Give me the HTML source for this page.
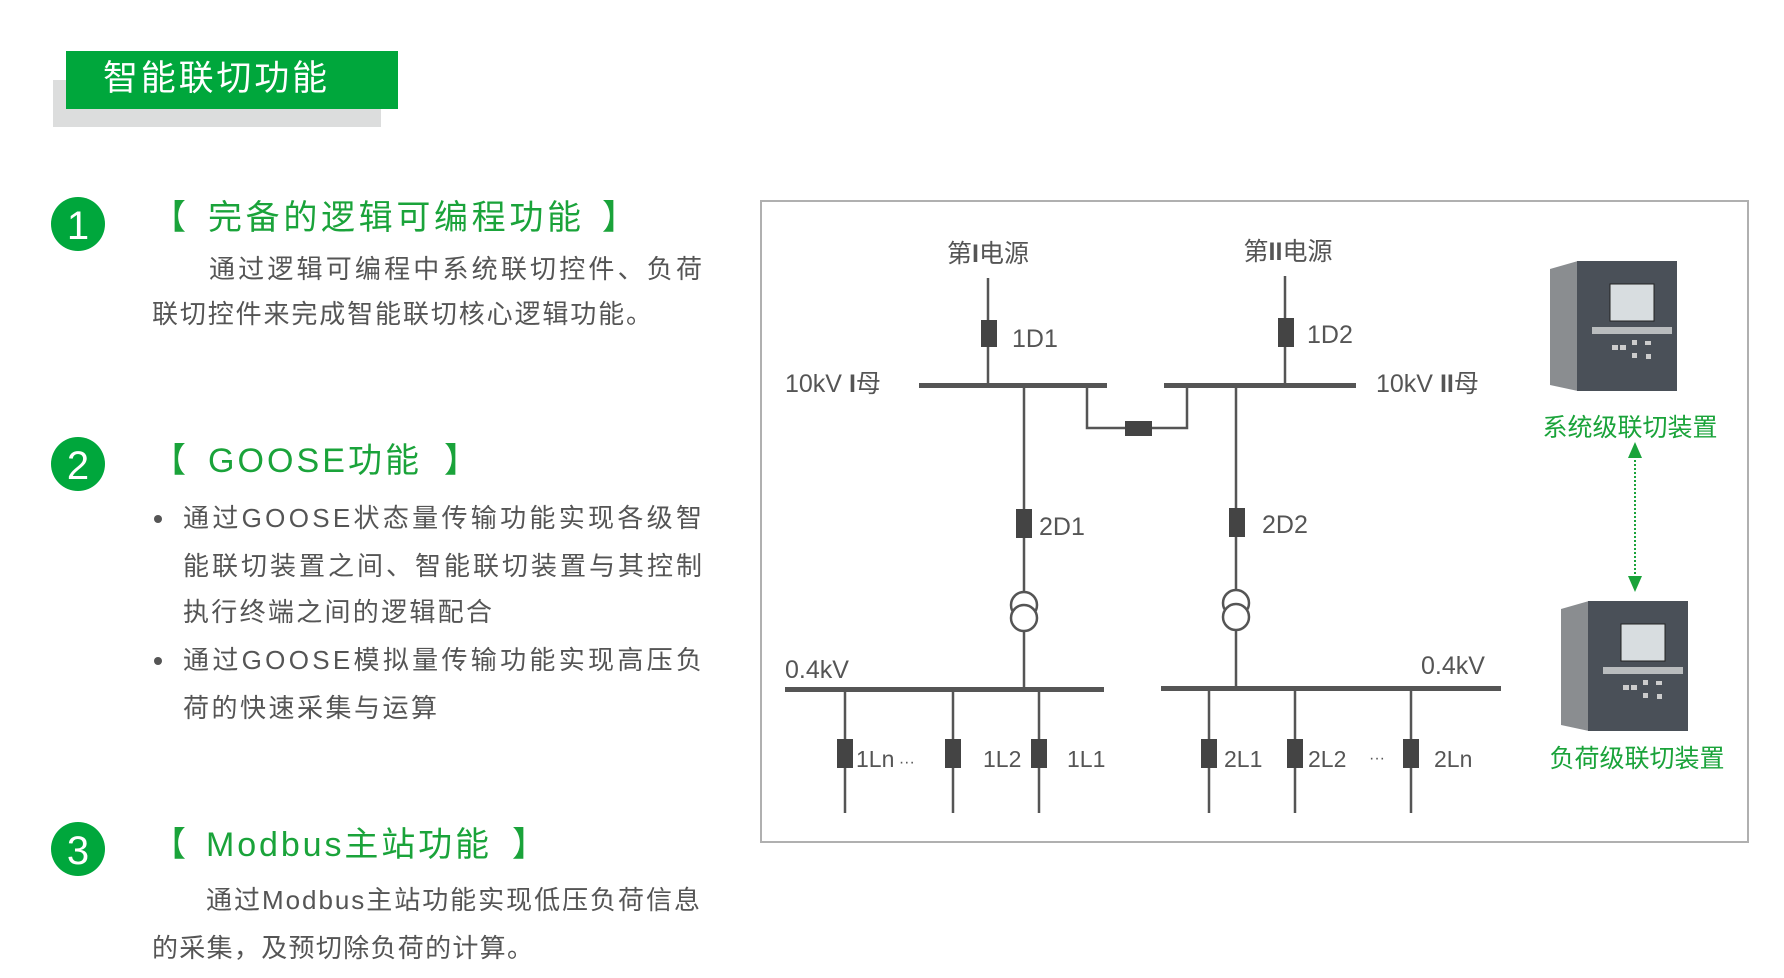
<!DOCTYPE html>
<html><head><meta charset="utf-8"><style>
html,body{margin:0;padding:0;background:#fff;width:1784px;height:978px;overflow:hidden}
svg{display:block}
</style></head><body>
<svg width="1784" height="978" xmlns="http://www.w3.org/2000/svg" font-family="Liberation Sans, Noto Sans CJK SC, sans-serif">
<defs>
<g id="dev">
  <polygon points="0,8 28,0 28,130 0,124" fill="#8a8d90"/>
  <rect x="27" y="0" width="100" height="130" fill="#4a5058"/>
  <rect x="60" y="23" width="44" height="37" fill="#d8dde0" stroke="#222" stroke-width="1"/>
  <rect x="42" y="66" width="80" height="7" fill="#b9bcbe"/>
  <rect x="62" y="84" width="6" height="5" fill="#ccc"/><rect x="70" y="84" width="6" height="5" fill="#ccc"/>
  <rect x="82" y="79" width="5" height="5" fill="#ccc"/><rect x="82" y="92" width="5" height="5" fill="#ccc"/>
  <rect x="95" y="80" width="6" height="4" fill="#ccc"/><rect x="96" y="93" width="5" height="5" fill="#ccc"/>
</g>
</defs>
<rect x="53" y="80" width="328" height="47" fill="#dcdddd"/>
<rect x="66" y="51" width="332" height="58" fill="#00a73c"/>
<text x="103" y="90" font-size="35" fill="#fff" textLength="224">智能联切功能</text>

<g fill="#00a73c"><circle cx="78" cy="224" r="27"/><circle cx="78" cy="464" r="27"/><circle cx="78" cy="849" r="27"/></g>
<g fill="#fff" font-size="40" text-anchor="middle"><text x="78" y="239">1</text><text x="78" y="479">2</text><text x="78" y="864">3</text></g>

<g fill="#1aa33a" font-size="34">
<text x="152" y="229">【</text><text x="208" y="229" textLength="373">完备的逻辑可编程功能</text><text x="602" y="229">】</text>
<text x="152" y="472">【</text><text x="208" y="472" textLength="211">GOOSE功能</text><text x="444" y="472">】</text>
<text x="152" y="856">【</text><text x="206" y="856" textLength="283">Modbus主站功能</text><text x="512" y="856">】</text>
</g>

<g fill="#555" font-size="26">
<text x="209" y="278" textLength="493">通过逻辑可编程中系统联切控件、负荷</text>
<text x="152" y="323" textLength="500">联切控件来完成智能联切核心逻辑功能。</text>
<circle cx="158" cy="519" r="4"/>
<text x="183" y="527" textLength="519">通过GOOSE状态量传输功能实现各级智</text>
<text x="183" y="575" textLength="519">能联切装置之间、智能联切装置与其控制</text>
<text x="183" y="621" textLength="309">执行终端之间的逻辑配合</text>
<circle cx="158" cy="661" r="4"/>
<text x="183" y="669" textLength="519">通过GOOSE模拟量传输功能实现高压负</text>
<text x="183" y="717" textLength="254">荷的快速采集与运算</text>
<text x="206" y="909" textLength="494">通过Modbus主站功能实现低压负荷信息</text>
<text x="152" y="957" textLength="381">的采集，及预切除负荷的计算。</text>
</g>

<rect x="761" y="201" width="987" height="641" fill="none" stroke="#b0b0b0" stroke-width="2"/>

<g transform="translate(-5,-2)">
<g stroke="#555" stroke-width="2.5" fill="none">
<line x1="993" y1="280" x2="993" y2="387"/>
<line x1="1290" y1="278" x2="1290" y2="387"/>
<polyline points="1092,387 1092,430 1192,430 1192,387"/>
<line x1="1029" y1="387" x2="1029" y2="594"/>
<line x1="1029" y1="633" x2="1029" y2="691"/>
<line x1="1241" y1="387" x2="1241" y2="592"/>
<line x1="1241" y1="632" x2="1241" y2="690"/>
<circle cx="1029" cy="607" r="13" fill="#fff"/><circle cx="1029" cy="620" r="13" fill="#fff"/>
<circle cx="1241" cy="605" r="13" fill="#fff"/><circle cx="1241" cy="619" r="13" fill="#fff"/>
<line x1="850" y1="691" x2="850" y2="815"/><line x1="958" y1="691" x2="958" y2="815"/><line x1="1044" y1="691" x2="1044" y2="815"/>
<line x1="1214" y1="690" x2="1214" y2="815"/><line x1="1300" y1="690" x2="1300" y2="815"/><line x1="1416" y1="690" x2="1416" y2="815"/>
</g>
<g fill="#555">
<rect x="924" y="385" width="188" height="5"/>
<rect x="1169" y="385" width="192" height="5"/>
<rect x="790" y="689" width="319" height="5"/>
<rect x="1166" y="688" width="340" height="5"/>
</g>
<g fill="#444">
<rect x="986" y="322" width="16" height="27"/>
<rect x="1283" y="320" width="16" height="29"/>
<rect x="1130" y="423" width="27" height="15"/>
<rect x="1021" y="511" width="16" height="29"/>
<rect x="1234" y="510" width="16" height="29"/>
<rect x="842" y="741" width="16" height="29"/><rect x="950" y="741" width="16" height="29"/><rect x="1036" y="741" width="16" height="29"/>
<rect x="1206" y="741" width="16" height="29"/><rect x="1292" y="741" width="16" height="29"/><rect x="1408" y="741" width="16" height="29"/>
</g>
<g fill="#555" font-size="25">
<text x="993" y="264" text-anchor="middle">第<tspan font-weight="bold">I</tspan>电源</text>
<text x="1293" y="262" text-anchor="middle">第<tspan font-weight="bold">II</tspan>电源</text>
<text x="1017" y="349">1D1</text>
<text x="1312" y="345">1D2</text>
<text x="790" y="394">10kV  <tspan font-weight="bold">I</tspan>母</text>
<text x="1381" y="394">10kV  <tspan font-weight="bold">II</tspan>母</text>
<text x="1044" y="537">2D1</text>
<text x="1267" y="535">2D2</text>
<text x="790" y="680">0.4kV</text>
<text x="1426" y="676">0.4kV</text>
<text x="861" y="769" font-size="23">1Ln<tspan font-size="16"> ···</tspan></text>
<text x="988" y="769" font-size="23">1L2</text>
<text x="1072" y="769" font-size="23">1L1</text>
<text x="1229" y="769" font-size="23">2L1</text>
<text x="1313" y="769" font-size="23">2L2</text>
<text x="1374" y="765" font-size="16">···</text>
<text x="1439" y="769" font-size="23">2Ln</text>
</g>
</g>

<use href="#dev" x="1550" y="261"/>
<use href="#dev" x="1561" y="601"/>

<g fill="#1aa33a" font-size="25" text-anchor="middle">
<text x="1630" y="436">系统级联切装置</text>
<text x="1637" y="767">负荷级联切装置</text>
</g>
<line x1="1635" y1="456" x2="1635" y2="580" stroke="#1aa33a" stroke-width="2" stroke-dasharray="2,2"/>
<polygon points="1635,442 1628,458 1642,458" fill="#1aa33a"/>
<polygon points="1635,592 1628,576 1642,576" fill="#1aa33a"/>
</svg>
</body></html>
